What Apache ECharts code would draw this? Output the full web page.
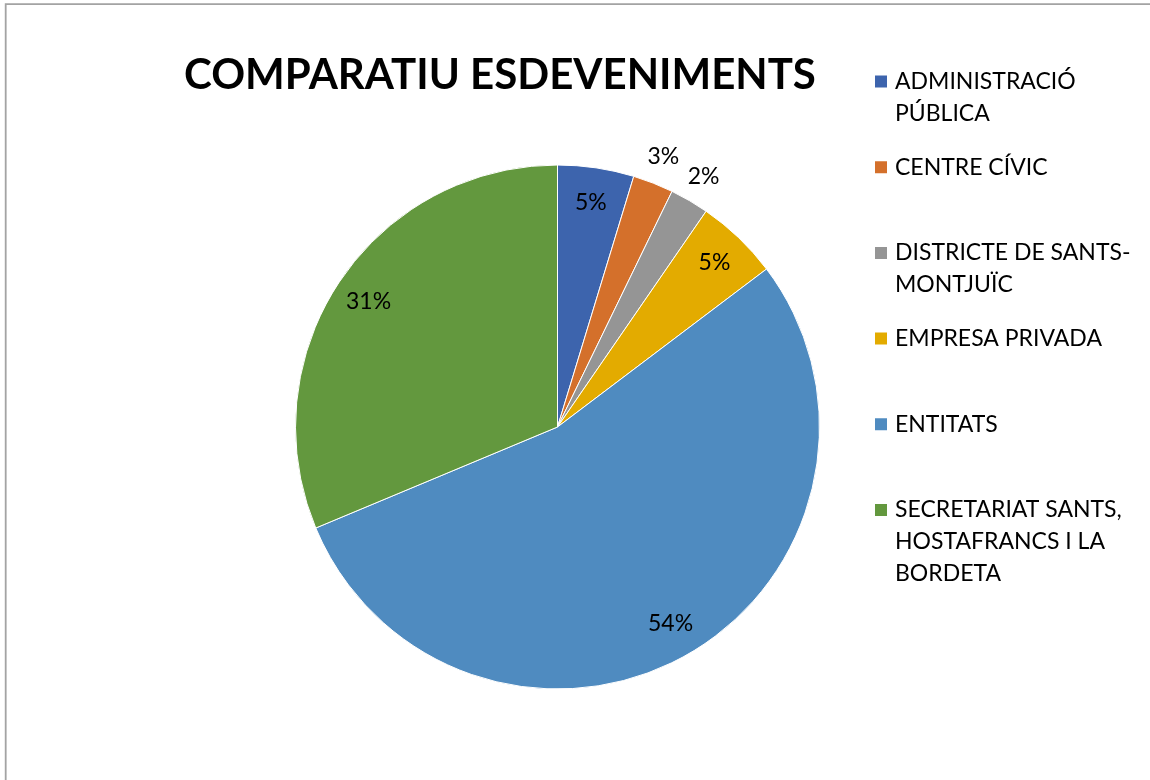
<!DOCTYPE html>
<html>
<head>
<meta charset="utf-8">
<script src="https://cdn.jsdelivr.net/npm/echarts@6/dist/echarts.min.js"></script>
<style>
html,body{margin:0;padding:0;background:#fff;}
#chart{width:1150px;height:780px;}
</style>
</head>
<body>
<div id="chart"></div>
<script>
// Data
const categories = ['ADMINISTRACIÓ PÚBLICA', 'CENTRE CÍVIC', 'DISTRICTE DE SANTS-MONTJUÏC', 'EMPRESA PRIVADA', 'ENTITATS', 'SECRETARIAT SANTS, HOSTAFRANCS I LA BORDETA'];
const values = [4.7, 2.5, 2.4, 5.1, 54.0, 31.3];
const legendLabels = ['ADMINISTRACIÓ\nPÚBLICA', 'CENTRE CÍVIC', 'DISTRICTE DE SANTS-\nMONTJUÏC', 'EMPRESA PRIVADA', 'ENTITATS', 'SECRETARIAT SANTS,\nHOSTAFRANCS I LA\nBORDETA'];
const outsideLabelCats = ['CENTRE CÍVIC', 'DISTRICTE DE SANTS-MONTJUÏC'];

// Styles
const colors = ['#3D64AD', '#D4702B', '#959595', '#E3AB00', '#4F8BC0', '#63983E'];
const FONT = 'Lato';
const cx = 557.5, cy = 427, R = 262;
const legendTop0 = 81.5, legendStep = 85.7, lineH = 32;

const chart = echarts.init(document.getElementById('chart'), null, {renderer: 'canvas'});

const mainData = categories.map((c, i) => ({name: c, value: values[i], itemStyle: {color: colors[i]}}));
const innerLabelData = categories.map((c, i) => ({name: c, value: values[i], label: {show: outsideLabelCats.indexOf(c) < 0}}));
const outerLabelData = categories.map((c, i) => ({name: c, value: values[i], label: {show: outsideLabelCats.indexOf(c) >= 0}}));

const legendBase = {
  orient: 'vertical', itemWidth: 14, itemHeight: 14, itemGap: 0,
  icon: 'rect', selectedMode: false
};
// icon-only legends (marker aligned with first text line)
const iconLegends = categories.map((c, i) => Object.assign({}, legendBase, {
  left: 868,
  top: legendTop0 + i * legendStep - lineH / 2 - 5,
  data: [c],
  formatter: () => ' ',
  textStyle: {fontFamily: FONT, fontSize: 23, lineHeight: lineH, color: '#000'}
}));
// text-only legends (transparent marker)
const textLegends = categories.map((c, i) => Object.assign({}, legendBase, {
  left: 871,
  top: legendTop0 + i * legendStep - lineH / 2 - 5,
  data: [c],
  itemStyle: {color: 'rgba(0,0,0,0)', borderWidth: 0},
  formatter: () => legendLabels[i],
  textStyle: {fontFamily: FONT, fontSize: 23, lineHeight: lineH, color: '#000'}
}));

const labelCommon = {
  position: 'inside',
  formatter: '{d}%',
  fontFamily: FONT, fontSize: 23, color: '#000'
};

chart.setOption({
  animation: false,
  color: colors,
  title: {
    text: 'COMPARATIU ESDEVENIMENTS',
    left: 179,
    top: 49,
    textStyle: {fontFamily: FONT, fontWeight: 'bold', fontSize: 42, color: '#000'}
  },
  legend: iconLegends.concat(textLegends),
  graphic: [{
    type: 'rect', silent: true, z: -1,
    shape: {x: 5.7, y: 4.2, width: 1400, height: 1000},
    style: {fill: 'none', stroke: '#a3a3a3', lineWidth: 1.8}
  }],
  series: [
    {
      type: 'pie', name: 'main', center: [cx, cy], radius: [0, R],
      startAngle: 90, clockwise: true, avoidLabelOverlap: false,
      label: {show: false}, labelLine: {show: false},
      itemStyle: {borderColor: '#ffffff', borderWidth: 1},
      emphasis: {disabled: true},
      data: mainData
    },
    {
      type: 'pie', name: 'lblIn', center: [cx, cy], radius: [186, R],
      startAngle: 90, clockwise: true, silent: true, avoidLabelOverlap: false,
      percentPrecision: 0,
      itemStyle: {color: 'rgba(0,0,0,0)'},
      label: labelCommon, labelLine: {show: false},
      emphasis: {disabled: true},
      data: innerLabelData
    },
    {
      type: 'pie', name: 'lblOut', center: [cx, cy], radius: [R, 312],
      startAngle: 90, clockwise: true, silent: true, avoidLabelOverlap: false,
      percentPrecision: 0,
      itemStyle: {color: 'rgba(0,0,0,0)'},
      label: labelCommon, labelLine: {show: false},
      emphasis: {disabled: true},
      data: outerLabelData
    }
  ]
});
</script>
</body>
</html>
